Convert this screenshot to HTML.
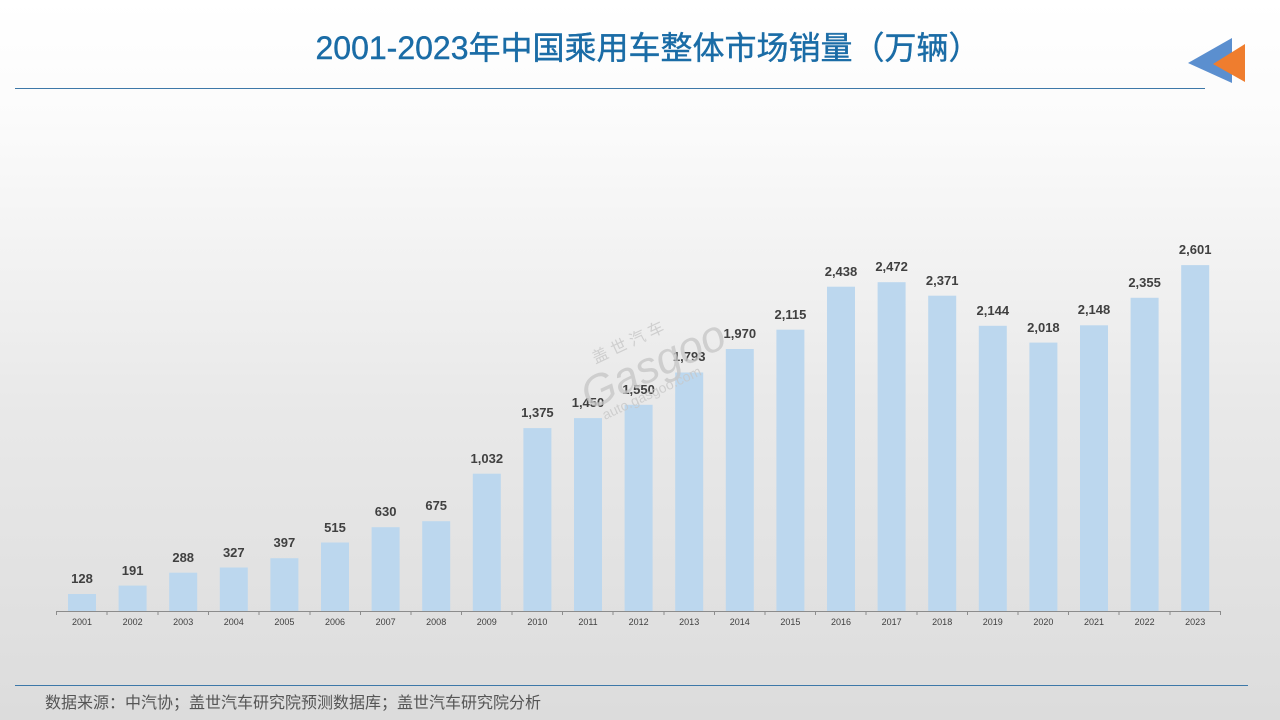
<!DOCTYPE html>
<html><head><meta charset="utf-8"><style>
body{margin:0;width:1280px;height:720px;overflow:hidden;font-family:"Liberation Sans","Noto Sans CJK SC",sans-serif;}
.bg{position:absolute;left:0;top:0;width:1280px;height:720px;background:linear-gradient(#ffffff 0px,#fbfbfb 120px,#e9e9e9 400px,#dcdcdc 720px);}
</style></head><body><div class="bg"></div>
<svg width="1280" height="720" style="position:absolute;left:0;top:0" font-family="Liberation Sans, Noto Sans CJK SC, sans-serif">
<text x="648" y="59" text-anchor="middle" font-size="32" fill="#1a6ca6" stroke="#1a6ca6" stroke-width="0.4" font-family="Liberation Sans, Noto Sans CJK SC, sans-serif">2001-2023年中国乘用车整体市场销量（万辆）</text>
<line x1="15" y1="88.5" x2="1205" y2="88.5" stroke="#3d78a8" stroke-width="1"/>
<polygon points="1188,63 1232,38 1232,83" fill="#5b8fcf"/>
<polygon points="1213,64 1245,44 1245,82" fill="#ef7d2e"/>
<g fill="#bcd7ee">
<rect x="68" y="594" width="28" height="17"/>
<rect x="118.6" y="585.6" width="28" height="25.4"/>
<rect x="169.2" y="572.7" width="28" height="38.3"/>
<rect x="219.8" y="567.5" width="28" height="43.5"/>
<rect x="270.4" y="558.2" width="28" height="52.8"/>
<rect x="321" y="542.5" width="28" height="68.5"/>
<rect x="371.6" y="527.2" width="28" height="83.8"/>
<rect x="422.2" y="521.2" width="28" height="89.8"/>
<rect x="472.8" y="473.7" width="28" height="137.3"/>
<rect x="523.4" y="428.1" width="28" height="182.9"/>
<rect x="574" y="418.1" width="28" height="192.9"/>
<rect x="624.6" y="404.8" width="28" height="206.2"/>
<rect x="675.2" y="372.5" width="28" height="238.5"/>
<rect x="725.8" y="349" width="28" height="262"/>
<rect x="776.4" y="329.7" width="28" height="281.3"/>
<rect x="827" y="286.7" width="28" height="324.3"/>
<rect x="877.6" y="282.2" width="28" height="328.8"/>
<rect x="928.2" y="295.7" width="28" height="315.3"/>
<rect x="978.8" y="325.8" width="28" height="285.2"/>
<rect x="1029.4" y="342.6" width="28" height="268.4"/>
<rect x="1080" y="325.3" width="28" height="285.7"/>
<rect x="1130.6" y="297.8" width="28" height="313.2"/>
<rect x="1181.2" y="265.1" width="28" height="345.9"/>
</g>
<line x1="56" y1="611.5" x2="1221" y2="611.5" stroke="#8c8c8c"/>
<g stroke="#8c8c8c">
<line x1="56.5" y1="611" x2="56.5" y2="615"/><line x1="107" y1="611" x2="107" y2="615"/><line x1="158" y1="611" x2="158" y2="615"/><line x1="208.5" y1="611" x2="208.5" y2="615"/><line x1="259" y1="611" x2="259" y2="615"/><line x1="310" y1="611" x2="310" y2="615"/><line x1="360.5" y1="611" x2="360.5" y2="615"/><line x1="411" y1="611" x2="411" y2="615"/><line x1="461.5" y1="611" x2="461.5" y2="615"/><line x1="512" y1="611" x2="512" y2="615"/><line x1="562.5" y1="611" x2="562.5" y2="615"/><line x1="613" y1="611" x2="613" y2="615"/><line x1="664" y1="611" x2="664" y2="615"/><line x1="714.5" y1="611" x2="714.5" y2="615"/><line x1="765" y1="611" x2="765" y2="615"/><line x1="815.5" y1="611" x2="815.5" y2="615"/><line x1="866" y1="611" x2="866" y2="615"/><line x1="917" y1="611" x2="917" y2="615"/><line x1="967.5" y1="611" x2="967.5" y2="615"/><line x1="1018" y1="611" x2="1018" y2="615"/><line x1="1068.5" y1="611" x2="1068.5" y2="615"/><line x1="1119" y1="611" x2="1119" y2="615"/><line x1="1170" y1="611" x2="1170" y2="615"/><line x1="1220.5" y1="611" x2="1220.5" y2="615"/>
</g>
<g font-size="9" fill="#404040" text-anchor="middle">
<text x="82" y="625">2001</text><text x="132.6" y="625">2002</text><text x="183.2" y="625">2003</text><text x="233.8" y="625">2004</text><text x="284.4" y="625">2005</text><text x="335" y="625">2006</text><text x="385.6" y="625">2007</text><text x="436.2" y="625">2008</text><text x="486.8" y="625">2009</text><text x="537.4" y="625">2010</text><text x="588" y="625">2011</text><text x="638.6" y="625">2012</text><text x="689.2" y="625">2013</text><text x="739.8" y="625">2014</text><text x="790.4" y="625">2015</text><text x="841" y="625">2016</text><text x="891.6" y="625">2017</text><text x="942.2" y="625">2018</text><text x="992.8" y="625">2019</text><text x="1043.4" y="625">2020</text><text x="1094" y="625">2021</text><text x="1144.6" y="625">2022</text><text x="1195.2" y="625">2023</text>
</g>
<g font-size="13" font-weight="bold" fill="#404040" text-anchor="middle">
<text x="82" y="583">128</text><text x="132.6" y="575">191</text><text x="183.2" y="562">288</text><text x="233.8" y="557">327</text><text x="284.4" y="547">397</text><text x="335" y="532">515</text><text x="385.6" y="516">630</text><text x="436.2" y="510">675</text><text x="486.8" y="463">1,032</text><text x="537.4" y="417">1,375</text><text x="588" y="407">1,450</text><text x="638.6" y="394">1,550</text><text x="689.2" y="361">1,793</text><text x="739.8" y="338">1,970</text><text x="790.4" y="319">2,115</text><text x="841" y="276">2,438</text><text x="891.6" y="271">2,472</text><text x="942.2" y="285">2,371</text><text x="992.8" y="315">2,144</text><text x="1043.4" y="332">2,018</text><text x="1094" y="314">2,148</text><text x="1144.6" y="287">2,355</text><text x="1195.2" y="254">2,601</text>
</g>
<g transform="rotate(-25 640 365)" fill="#c8c8c8" opacity="0.8">
<text x="575" y="385" font-size="44" font-style="italic">Gasgoo</text>
<text x="600" y="345" font-size="16">盖 世 汽 车</text>
<text x="585" y="400" font-size="14">auto.gasgoo.com</text>
</g>
<line x1="15" y1="685.5" x2="1248" y2="685.5" stroke="#3d78a8"/>
<text x="45" y="708" font-size="16" fill="#555">数据来源：中汽协；盖世汽车研究院预测数据库；盖世汽车研究院分析</text>
</svg>
</body></html>
